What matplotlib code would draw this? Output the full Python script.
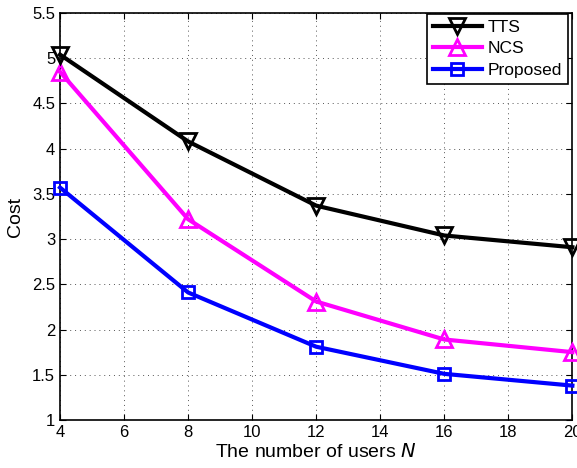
import matplotlib
matplotlib.use("Agg")
import matplotlib.pyplot as plt

plt.rcParams['font.family'] = ['Liberation Sans', 'DejaVu Sans']

users = [4, 8, 12, 16, 20]
tts = [5.04, 4.08, 3.37, 3.04, 2.91]
ncs = [4.85, 3.22, 2.31, 1.89, 1.75]
proposed = [3.57, 2.41, 1.81, 1.51, 1.38]

xticks = [4, 6, 8, 10, 12, 14, 16, 18, 20]
yticks = [1, 1.5, 2, 2.5, 3, 3.5, 4, 4.5, 5, 5.5]

fig = plt.figure(figsize=(5.77, 4.68), dpi=100)
ax = fig.add_axes([0.104, 0.1026, 0.888, 0.8696])

ax.plot(users, tts, color='black', lw=3, marker='v', ms=11, mfc='none', mew=2, label='TTS', clip_on=False, zorder=5)
ax.plot(users, ncs, color='#ff00ff', lw=3, marker='^', ms=11, mfc='none', mew=2, label='NCS', clip_on=False, zorder=4)
ax.plot(users, proposed, color='#0000ff', lw=3, marker='s', ms=9, mfc='none', mew=2, label='Proposed', clip_on=False, zorder=3)

ax.set_xlim(4, 20)
ax.set_ylim(1, 5.5)
ax.set_xticks(xticks)
ax.set_xticklabels([str(t) for t in xticks])
ax.set_yticks(yticks)
ax.set_yticklabels(['1', '1.5', '2', '2.5', '3', '3.5', '4', '4.5', '5', '5.5'])
ax.tick_params(direction='in', labelsize=12, length=4, width=0.8, top=True, right=True)
ax.grid(True, linestyle=(0, (1, 4)), color='#555555', lw=0.7)
for s in ax.spines.values():
    s.set_linewidth(1.2)

ax.set_xlabel('The number of users $N$', fontsize=14, labelpad=2)
ax.set_ylabel('Cost', fontsize=14, labelpad=6)

leg = ax.legend(loc='upper right', bbox_to_anchor=(0.992, 0.9975), fontsize=12.5,
                fancybox=False, framealpha=1, edgecolor='black', borderaxespad=0,
                handlelength=2.8, borderpad=0.35, labelspacing=0.35, handletextpad=0.35)
leg.get_frame().set_linewidth(1.2)

fig.savefig('out.png', dpi=100)
